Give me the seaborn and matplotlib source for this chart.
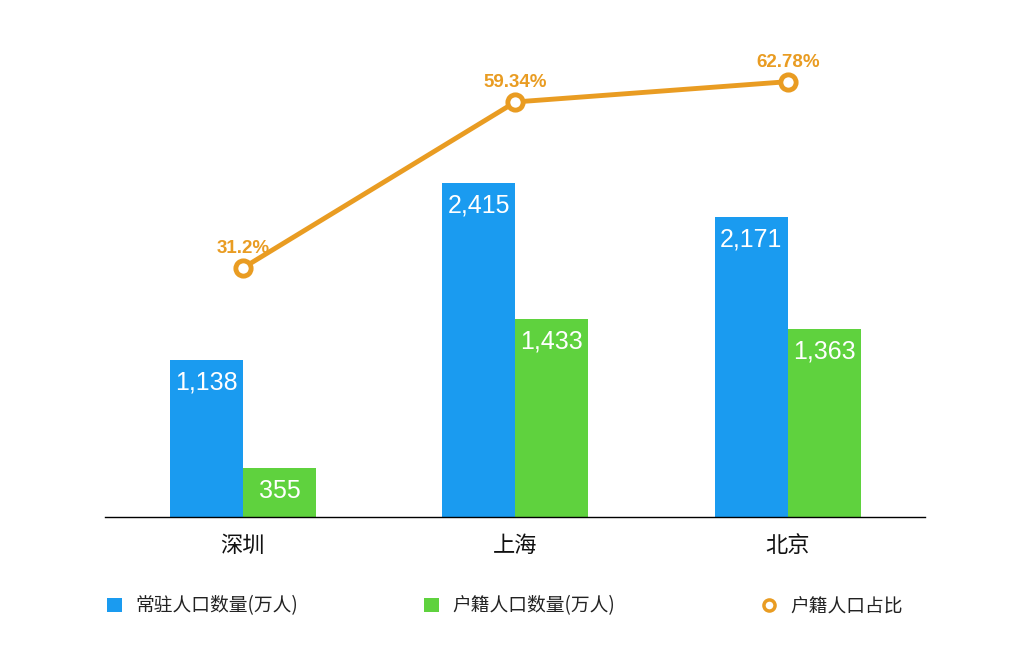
import numpy as np
import pandas as pd
import matplotlib.pyplot as plt
import seaborn as sns
from matplotlib.lines import Line2D
from matplotlib.patches import Patch

# данные
cities = ["深圳", "上海", "北京"]
resident = [1138, 2415, 2171]      # 常驻人口数量(万人)
registered = [355, 1433, 1363]     # 户籍人口数量(万人)
ratio = [31.2, 59.34, 62.78]       # 户籍人口占比, %
ratio_labels = ["31.2%", "59.34%", "62.78%"]

series_names = ["常驻人口数量(万人)", "户籍人口数量(万人)"]
line_name = "户籍人口占比"

blue = "#1a9bf0"
green = "#5fd23e"
orange = "#e99c22"

sns.set_theme(style="white")
plt.rcParams['font.family'] = ['Noto Sans CJK SC', 'DejaVu Sans']

df = pd.DataFrame({
    "city": cities * 2,
    "value": resident + registered,
    "series": [series_names[0]] * 3 + [series_names[1]] * 3,
})

fig = plt.figure(figsize=(10.24, 6.49), dpi=100)
ax = fig.add_axes([105 / 1024, 132 / 649, 820 / 1024, 477 / 649])

sns.barplot(data=df, x="city", y="value", hue="series", order=cities,
            hue_order=series_names, palette=[blue, green], width=0.536,
            gap=0, saturation=1, linewidth=0, ax=ax, legend=False)

for cont in ax.containers:
    ax.bar_label(cont, labels=[f"{v:,.0f}" for v in cont.datavalues],
                 label_type="edge", padding=-25, color="white", fontsize=18,
                 family=['Liberation Sans', 'DejaVu Sans'])

ax.set_xlim(-0.506, 2.503)
ax.set_ylim(0, 3451)
ax.set_xlabel("")
ax.set_ylabel("")
ax.set_yticks([])
ax.tick_params(axis="x", length=0, labelsize=16, pad=12, labelcolor="#111111")
for s in ["top", "left", "right"]:
    ax.spines[s].set_visible(False)
ax.spines["bottom"].set_color("black")
ax.spines["bottom"].set_linewidth(1)

ax2 = ax.twinx()
sns.lineplot(x=np.arange(len(cities)), y=ratio, ax=ax2, color=orange,
             linewidth=3.5, marker="o", markersize=11, markerfacecolor="white",
             markeredgecolor=orange, markeredgewidth=3.5)
ax2.set_ylim(-11.0, 69.84)
ax2.set_yticks([])
ax2.set_ylabel("")
for s in ["top", "left", "right", "bottom"]:
    ax2.spines[s].set_visible(False)
for i, (r, lab) in enumerate(zip(ratio, ratio_labels)):
    ax2.annotate(lab, (i, r), xytext=(0, 8), textcoords="offset points",
                 ha="center", va="bottom", color=orange, fontsize=13.5,
                 fontweight="bold", family=['Liberation Sans', 'DejaVu Sans'])

# легенда — три отдельных элемента по низу
handles = [
    Patch(facecolor=blue, edgecolor="none"),
    Patch(facecolor=green, edgecolor="none"),
    Line2D([], [], color=orange, marker="o", linestyle="none", markersize=8,
           markerfacecolor="white", markeredgewidth=2.5),
]
labels = series_names + [line_name]
xs = [90, 407, 745]
for h, l, x in zip(handles, labels, xs):
    fig.legend([h], [l], loc="center left", bbox_to_anchor=(x / 1024, 1 - 606 / 649),
               frameon=False, fontsize=13.5, handlelength=0.8, handleheight=0.8,
               handletextpad=0.7, labelcolor="#222222")

fig.savefig("out.png", dpi=100, facecolor="white")
